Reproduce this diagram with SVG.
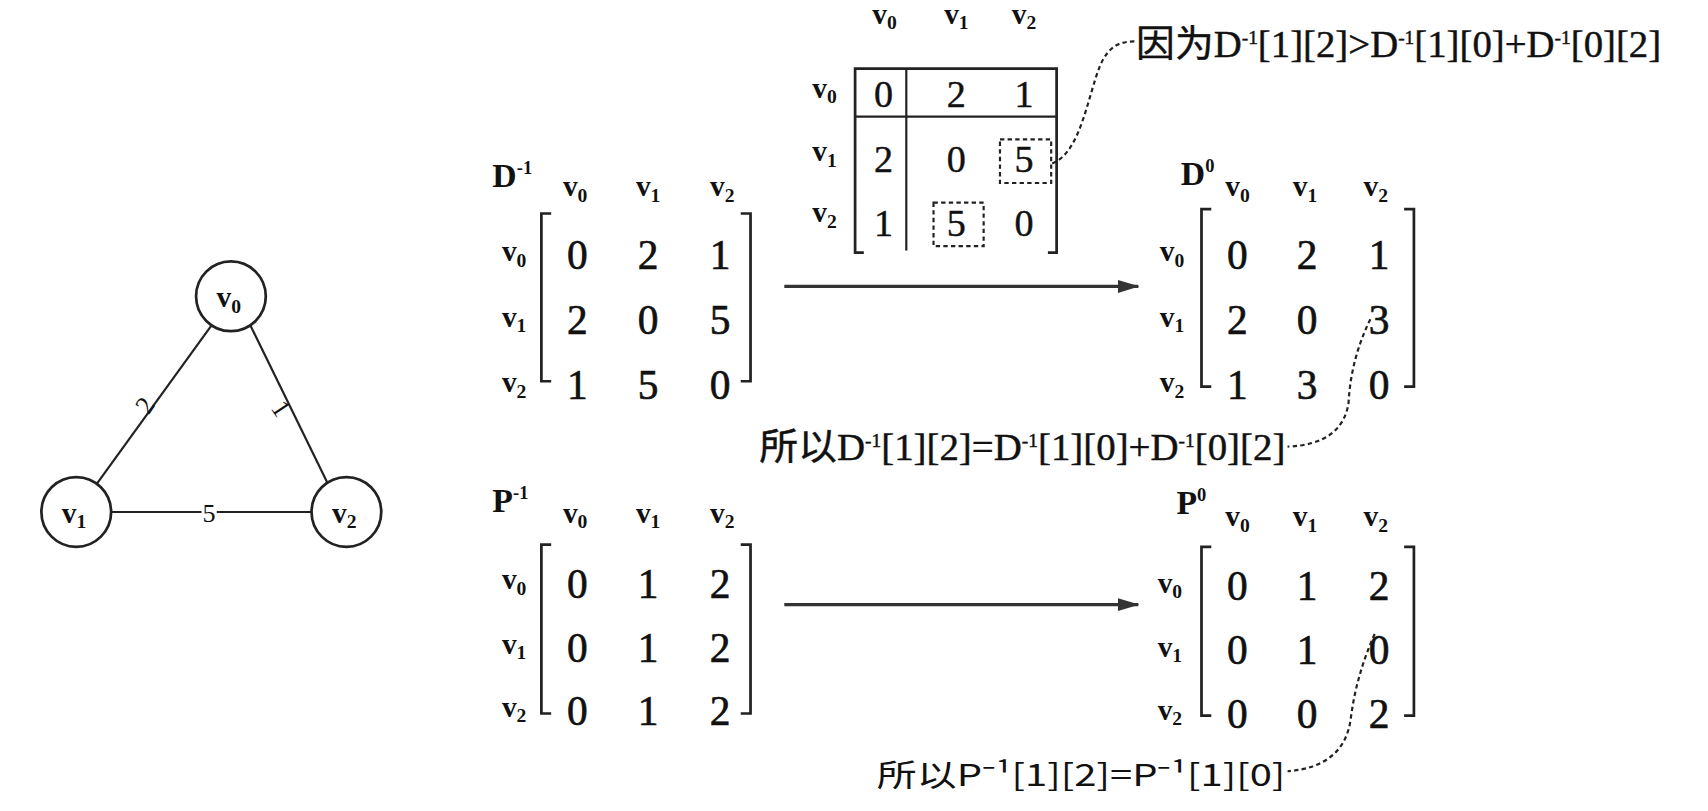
<svg xmlns="http://www.w3.org/2000/svg" width="1708" height="811" viewBox="0 0 1708 811">
<style>
text{font-family:"Liberation Serif","Noto Sans CJK SC",serif;fill:#111}
.hd{font-size:27px;text-anchor:middle;font-weight:bold}
.val{font-size:38px;text-anchor:middle;stroke:#111;stroke-width:0.6;font-family:"Liberation Serif",serif}
.tv{font-size:35px;text-anchor:middle;stroke:#111;stroke-width:0.4;font-family:"Liberation Serif",serif}
.nm{font-size:31px;font-weight:bold}
.lbl{font-size:34px;stroke:#111;stroke-width:0.4}
.sub{font-size:18px}
.sup{font-size:17px}
.br{fill:none;stroke:#222;stroke-width:2.5}
.ln{fill:none;stroke:#222;stroke-width:2}
.dash{fill:none;stroke:#222;stroke-width:2;stroke-dasharray:4 3}
.node{fill:#fff;stroke:#222;stroke-width:2.5}
.edge{stroke:#222;stroke-width:2}
.arrow{stroke:#333;stroke-width:3;fill:none}
</style>
<defs>
<marker id="ah" viewBox="0 0 20 12" refX="19" refY="6" markerWidth="20" markerHeight="12" markerUnits="userSpaceOnUse" orient="auto">
<path d="M0 0 L20 6 L0 12 Z" fill="#333"/>
</marker>
</defs>
<g transform="scale(1.0893)">
<g id="graph-edges">
<line class="edge" x1="194" y1="299" x2="89" y2="444"/>
<line class="edge" x1="230" y1="299" x2="301" y2="444"/>
<line class="edge" x1="102" y1="470" x2="286" y2="470"/>
<text x="133" y="380" font-size="24" text-anchor="middle" transform="rotate(-56 133 372)">2</text>
<text x="258" y="383" font-size="24" text-anchor="middle" transform="rotate(56 258 375)">1</text>
<rect x="185" y="460" width="14" height="20" fill="#fff"/>
<text x="192" y="479" font-size="24" text-anchor="middle">5</text>
</g>
<g id="node-v0"><circle class="node" cx="212" cy="272" r="32"/><text class="hd" x="210" y="282">v<tspan class="sub" dy="5">0</tspan></text></g>
<g id="node-v1"><circle class="node" cx="70" cy="470" r="32"/><text class="hd" x="68" y="480">v<tspan class="sub" dy="5">1</tspan></text></g>
<g id="node-v2"><circle class="node" cx="318" cy="470" r="32"/><text class="hd" x="316" y="480">v<tspan class="sub" dy="5">2</tspan></text></g>

<g id="top-matrix">
<text class="hd" x="812" y="22">v<tspan class="sub" dy="5">0</tspan></text>
<text class="hd" x="878" y="22">v<tspan class="sub" dy="5">1</tspan></text>
<text class="hd" x="940" y="22">v<tspan class="sub" dy="5">2</tspan></text>
<text class="hd" x="757" y="90">v<tspan class="sub" dy="5">0</tspan></text>
<text class="hd" x="757" y="148">v<tspan class="sub" dy="5">1</tspan></text>
<text class="hd" x="757" y="204">v<tspan class="sub" dy="5">2</tspan></text>
<path class="br" d="M793 232 H785 V63 H970 V232 H962"/>
<line class="ln" x1="785" y1="107" x2="970" y2="107"/>
<line class="ln" x1="832" y1="63" x2="832" y2="230"/>
<text class="tv" x="811" y="98">0</text>
<text class="tv" x="878" y="98">2</text>
<text class="tv" x="940" y="98">1</text>
<text class="tv" x="811" y="158">2</text>
<text class="tv" x="878" y="158">0</text>
<text class="tv" x="940" y="158">5</text>
<text class="tv" x="811" y="217">1</text>
<text class="tv" x="878" y="217">5</text>
<text class="tv" x="940" y="217">0</text>
<rect class="dash" x="918" y="128" width="47" height="40"/>
<rect class="dash" x="857" y="186" width="46" height="40"/>
</g>

<g id="matrix-D-1">
<text class="nm" x="452" y="172">D<tspan class="sup" dy="-12">-1</tspan></text>
<text class="hd" x="528" y="180">v<tspan class="sub" dy="5">0</tspan></text>
<text class="hd" x="595" y="180">v<tspan class="sub" dy="5">1</tspan></text>
<text class="hd" x="663" y="180">v<tspan class="sub" dy="5">2</tspan></text>
<text class="hd" x="472" y="240">v<tspan class="sub" dy="5">0</tspan></text>
<text class="hd" x="472" y="300">v<tspan class="sub" dy="5">1</tspan></text>
<text class="hd" x="472" y="360">v<tspan class="sub" dy="5">2</tspan></text>
<path class="br" d="M506 196 H497 V350 H506"/>
<path class="br" d="M680 196 H689 V350 H680"/>
<text class="val" x="530" y="247">0</text><text class="val" x="595" y="247">2</text><text class="val" x="661" y="247">1</text>
<text class="val" x="530" y="307">2</text><text class="val" x="595" y="307">0</text><text class="val" x="661" y="307">5</text>
<text class="val" x="530" y="366">1</text><text class="val" x="595" y="366">5</text><text class="val" x="661" y="366">0</text>
</g>

<g id="matrix-D0">
<text class="nm" x="1084" y="170">D<tspan class="sup" dy="-12">0</tspan></text>
<text class="hd" x="1136" y="180">v<tspan class="sub" dy="5">0</tspan></text>
<text class="hd" x="1198" y="180">v<tspan class="sub" dy="5">1</tspan></text>
<text class="hd" x="1263" y="180">v<tspan class="sub" dy="5">2</tspan></text>
<text class="hd" x="1076" y="240">v<tspan class="sub" dy="5">0</tspan></text>
<text class="hd" x="1076" y="300">v<tspan class="sub" dy="5">1</tspan></text>
<text class="hd" x="1076" y="360">v<tspan class="sub" dy="5">2</tspan></text>
<path class="br" d="M1112 192 H1103 V355 H1112"/>
<path class="br" d="M1289 192 H1298 V355 H1289"/>
<text class="val" x="1136" y="247">0</text><text class="val" x="1200" y="247">2</text><text class="val" x="1266" y="247">1</text>
<text class="val" x="1136" y="307">2</text><text class="val" x="1200" y="307">0</text><text class="val" x="1266" y="307">3</text>
<text class="val" x="1136" y="366">1</text><text class="val" x="1200" y="366">3</text><text class="val" x="1266" y="366">0</text>
</g>

<g id="matrix-P-1">
<text class="nm" x="452" y="470">P<tspan class="sup" dy="-12">-1</tspan></text>
<text class="hd" x="528" y="480">v<tspan class="sub" dy="5">0</tspan></text>
<text class="hd" x="595" y="480">v<tspan class="sub" dy="5">1</tspan></text>
<text class="hd" x="663" y="480">v<tspan class="sub" dy="5">2</tspan></text>
<text class="hd" x="472" y="541">v<tspan class="sub" dy="5">0</tspan></text>
<text class="hd" x="472" y="600">v<tspan class="sub" dy="5">1</tspan></text>
<text class="hd" x="472" y="658">v<tspan class="sub" dy="5">2</tspan></text>
<path class="br" d="M506 500 H497 V655 H506"/>
<path class="br" d="M680 500 H689 V655 H680"/>
<text class="val" x="530" y="549">0</text><text class="val" x="595" y="549">1</text><text class="val" x="661" y="549">2</text>
<text class="val" x="530" y="608">0</text><text class="val" x="595" y="608">1</text><text class="val" x="661" y="608">2</text>
<text class="val" x="530" y="666">0</text><text class="val" x="595" y="666">1</text><text class="val" x="661" y="666">2</text>
</g>

<g id="matrix-P0">
<text class="nm" x="1080" y="472">P<tspan class="sup" dy="-12">0</tspan></text>
<text class="hd" x="1136" y="483">v<tspan class="sub" dy="5">0</tspan></text>
<text class="hd" x="1198" y="483">v<tspan class="sub" dy="5">1</tspan></text>
<text class="hd" x="1263" y="483">v<tspan class="sub" dy="5">2</tspan></text>
<text class="hd" x="1074" y="544">v<tspan class="sub" dy="5">0</tspan></text>
<text class="hd" x="1074" y="603">v<tspan class="sub" dy="5">1</tspan></text>
<text class="hd" x="1074" y="661">v<tspan class="sub" dy="5">2</tspan></text>
<path class="br" d="M1112 502 H1103 V657 H1112"/>
<path class="br" d="M1289 502 H1298 V657 H1289"/>
<text class="val" x="1136" y="551">0</text><text class="val" x="1200" y="551">1</text><text class="val" x="1266" y="551">2</text>
<text class="val" x="1136" y="610">0</text><text class="val" x="1200" y="610">1</text><text class="val" x="1266" y="610">0</text>
<text class="val" x="1136" y="668">0</text><text class="val" x="1200" y="668">0</text><text class="val" x="1266" y="668">2</text>
</g>

<g id="label-because">
<text class="lbl" x="1043" y="52" textLength="482" lengthAdjust="spacingAndGlyphs">因为D<tspan class="sup" dy="-12">-1</tspan><tspan dy="12">[1][2]&gt;D</tspan><tspan class="sup" dy="-12">-1</tspan><tspan dy="12">[1][0]+D</tspan><tspan class="sup" dy="-12">-1</tspan><tspan dy="12">[0][2]</tspan></text>
</g>
<g id="label-so-D">
<text class="lbl" x="697" y="422" textLength="483" lengthAdjust="spacingAndGlyphs">所以D<tspan class="sup" dy="-12">-1</tspan><tspan dy="12">[1][2]=D</tspan><tspan class="sup" dy="-12">-1</tspan><tspan dy="12">[1][0]+D</tspan><tspan class="sup" dy="-12">-1</tspan><tspan dy="12">[0][2]</tspan></text>
</g>
<g id="label-so-P">
<text x="805" y="722" font-size="28" textLength="375" lengthAdjust="spacingAndGlyphs" style="font-family:'Noto Sans CJK SC','Liberation Sans',sans-serif">所以P⁻¹[1][2]=P⁻¹[1][0]</text>
</g>

<g id="connectors">
<line class="arrow" x1="720" y1="263" x2="1045" y2="263" marker-end="url(#ah)"/>
<line class="arrow" x1="720" y1="555" x2="1045" y2="555" marker-end="url(#ah)"/>
<path class="dash" d="M966 150 C992 140 998 90 1010 60 C1018 42 1028 38 1042 38"/>
<path class="dash" d="M1258 293 Q1240 330 1238 370 Q1232 408 1182 410"/>
<path class="dash" d="M1262 582 Q1245 620 1240 660 Q1234 704 1182 708"/>
</g>
</g>
</svg>
